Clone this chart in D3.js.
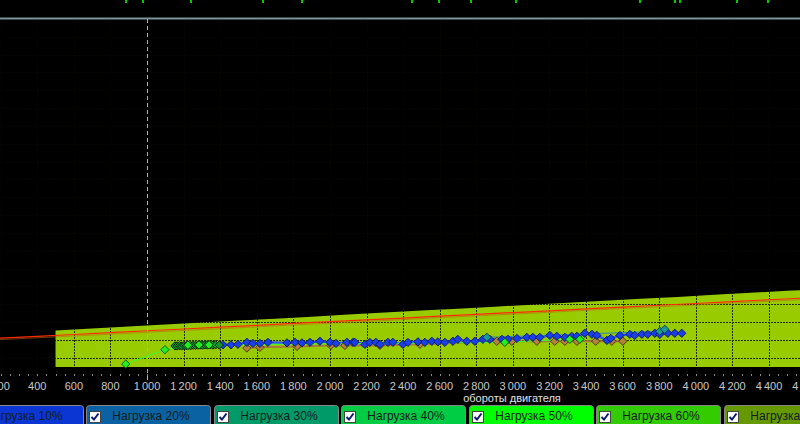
<!DOCTYPE html>
<html><head><meta charset="utf-8">
<script src="https://cdn.jsdelivr.net/npm/d3@7"></script>
<style>html,body{margin:0;padding:0;background:#000;overflow:hidden}svg{display:block}</style>
</head><body>
<svg id="c" width="800" height="424"></svg>
<script>
// ---------- data ----------
const xTicks = [0,200,400,600,800,1000,1200,1400,1600,1800,2000,2200,2400,2600,2800,3000,3200,3400,3600,3800,4000,4200,4400,4600];
const yGrid = [1,2,3,4,5,6,7,8,9,10,11,12,13,14,15,16,17,18,19];
const legendNames = ["Нагрузка 10%","Нагрузка 20%","Нагрузка 30%","Нагрузка 40%","Нагрузка 50%","Нагрузка 60%","Нагрузка 70%"];
const legendColors = ["#0c36d4","#0b62a3","#009a68","#00cc44","#00ff00","#33cc00","#669900"];
// permitted zone (band) top edge, rpm / value
const bandRpm = [500,700,900,1100,1300,1500,1700,1900,2100,2300,2500,2700,2900,3100,3300,3500,3700,3900,4100,4300,4500,4700,4900];
const bandTop = [2.53,2.64,2.75,2.86,2.97,3.08,3.19,3.30,3.42,3.53,3.64,3.75,3.86,3.97,4.08,4.19,4.30,4.41,4.53,4.64,4.75,4.86,4.97];
const bandBottom = 0.48;
// red limit line
const limRpm = [0,200,400,600,800,1000,1200,1400,1600,1800,2000,2200,2400,2600,2800,3000,3200,3400,3600,3800,4000,4200,4400,4600,4800];
const limVal = [1.99,2.10,2.20,2.30,2.40,2.51,2.61,2.71,2.81,2.92,3.02,3.12,3.22,3.33,3.43,3.53,3.63,3.74,3.84,3.94,4.04,4.15,4.25,4.35,4.45];
// series (rpm, value)
const s10rpm = [1415,1459,1497,1546,1579,1617,1661,1765,1809,1847,1891,1945,2000,2033,2093,2126,2136,2191,2218,2251,2273,2317,2344,2399,2426,2481,2519,2557,2590,2628,2672,2699,2748,2792,2836,2874,2940,2973,3022,3076,3109,3147,3202,3240,3284,3322,3350,3393,3432,3459,3514,3535,3585,3639,3666,3705,3737,3776,3803,3847,3885,3923];
const s10val = [1.72,1.72,1.75,1.86,1.80,1.80,1.86,1.83,1.86,1.83,1.86,1.92,1.86,1.80,1.86,1.86,1.86,1.75,1.86,1.86,1.75,1.86,1.86,1.75,1.86,1.89,1.86,1.92,1.89,1.86,1.92,2.03,1.92,1.92,2.03,2.03,2.03,2.03,2.08,2.14,2.14,2.14,2.25,2.20,2.14,2.20,2.20,2.37,2.31,2.25,1.97,2.08,2.25,2.31,2.25,2.31,2.31,2.37,2.31,2.37,2.37,2.37];
const s20rpm = [2858,3803,3830];
const s20val = [2.14,2.48,2.59];
const s40rpm = [1153,1165,1178,1190,1203,1215,1228,1240,1253,1265,1278,1290,1303,1316,1330,1345,1360,1375,1395];
const s40val = [1.66,1.66,1.67,1.66,1.68,1.67,1.69,1.68,1.70,1.69,1.70,1.71,1.70,1.72,1.71,1.72,1.71,1.72,1.71];
const s50rpm = [884,1098,1224,1284,1339,2956,3311,3366];
const s50val = [0.64,1.45,1.70,1.72,1.72,1.86,2.03,2.03];
const s80rpm = [1546,1617,1820,2005,2082,2273,2492,2912,2994,3131,3229,3284,3350,3453,3541,3601];
const s80val = [1.54,1.58,1.63,1.69,1.69,1.69,1.75,1.92,1.92,1.92,1.92,1.92,1.92,1.92,1.92,1.92];
const topMarkRpm = [880,973,1235,1628,1841,2443,2590,2765,3011,3688,3880,3907,4218,4388];

// ---------- layout ----------
const svg = d3.select("#c");
const x = d3.scaleLinear().domain([1000,4400]).range([147,769]);
const y = d3.scaleLinear().domain([0,20]).range([375.5,19]);

// top green marks
svg.append("g").selectAll("rect").data(topMarkRpm).join("rect")
  .attr("x", d => Math.round(x(d))).attr("y", 0).attr("width", 2).attr("height", 3).attr("fill", "#0c0");

// band
const band = bandRpm.map((r,i)=>({r, t: bandTop[i]}));
svg.append("path").datum(band)
  .attr("fill", "#99cc00")
  .attr("d", d3.area().x(d=>x(d.r)).y0(y(bandBottom)).y1(d=>y(d.t)));

// grid (dark dotted, only visible over the band)
const grid = svg.append("g").attr("stroke", "#050700").attr("stroke-width", 1).attr("stroke-dasharray", "2,1").attr("opacity",0.8);
grid.selectAll("line.v").data(xTicks.filter(d=>d!==1000)).join("line")
  .attr("x1", d=>Math.round(x(d))+0.5).attr("x2", d=>Math.round(x(d))+0.5).attr("y1", 19).attr("y2", 376);
grid.selectAll("line.h").data(yGrid).join("line")
  .attr("x1", 0).attr("x2", 800).attr("y1", d=>Math.round(y(d))+0.5).attr("y2", d=>Math.round(y(d))+0.5);

// red limit line
const lim = limRpm.map((r,i)=>({r, v: limVal[i]}));
svg.append("path").datum(lim).attr("fill","none").attr("stroke","#c06010").attr("stroke-width",1).attr("opacity",0.6)
  .attr("transform","translate(0,1.5)")
  .attr("d", d3.line().x(d=>x(d.r)).y(d=>y(d.v)));
svg.append("path").datum(lim).attr("fill","none").attr("stroke","#ff2a00").attr("stroke-width",1.2)
  .attr("d", d3.line().x(d=>x(d.r)).y(d=>y(d.v)));

// top border
svg.append("line").attr("x1",0).attr("x2",800).attr("y1",18.5).attr("y2",18.5).attr("stroke","#7d9497").attr("stroke-width",2);
// 1000 rpm marker
svg.append("line").attr("x1",x(1000)+0.5).attr("x2",x(1000)+0.5).attr("y1",19).attr("y2",380)
  .attr("stroke","#b0b0b0").attr("stroke-width",1).attr("stroke-dasharray","4,3");

// series
const series = [
  {rpm:s80rpm, val:s80val, fill:"#b0843c", line:"#a57a3a", lw:2, stroke:"#4a3000"},
  {rpm:s10rpm, val:s10val, fill:"#1a3fe8", line:"#3358f0", lw:2.5, stroke:"#0a1460"},
  {rpm:s20rpm, val:s20val, fill:"#1a9a9a", line:"#2a8ab0", lw:1, stroke:"#0a3040"},
  {rpm:s40rpm, val:s40val, fill:"#0c9a30", line:"#062a06", lw:4, stroke:"#021202"},
  {rpm:s50rpm, val:s50val, fill:"#22ee22", line:"#33ff33", lw:1, stroke:"#0a4a0a"},
];
const line = d3.line().x(d=>x(d[0])).y(d=>y(d[1]));
const sym = d3.symbol().type(d3.symbolDiamond2).size(44);
series.forEach(s => {
  const pts = s.rpm.map((r,i)=>[r, s.val[i]]);
  svg.append("path").datum(pts).attr("fill","none").attr("stroke",s.line).attr("stroke-width",s.lw).attr("d",line);
});
series.forEach(s => {
  const pts = s.rpm.map((r,i)=>[r, s.val[i]]);
  svg.append("g").selectAll("path").data(pts).join("path")
    .attr("d", sym).attr("transform", d=>`translate(${x(d[0])},${y(d[1])})`)
    .attr("fill", s.fill).attr("stroke", s.stroke).attr("stroke-width", 0.9);
});

// x axis
const fmt = d => d3.format(",")(d).replace(/,/g, "\u2009");
const ax = svg.append("g").attr("transform","translate(0,375)");
const minor = d3.range(0, 4800, 50);
ax.selectAll("line.m").data(minor).join("line")
  .attr("x1", d=>Math.round(x(d))+0.5).attr("x2", d=>Math.round(x(d))+0.5).attr("y1",-1).attr("y2",1)
  .attr("stroke","#8a8a8a");
ax.selectAll("text").data(xTicks).join("text")
  .attr("x", d=>x(d)).attr("y", 15).attr("text-anchor","middle")
  .attr("font-family","'Liberation Sans', Arial, sans-serif").attr("font-size","11px").attr("fill","#c8c8c8")
  .text(fmt);
svg.append("text").attr("x", 512).attr("y", 402).attr("text-anchor","middle")
  .attr("font-family","'Liberation Sans', Arial, sans-serif").attr("font-size","11px").attr("fill","#e0e0e0")
  .text("обороты двигателя");

// legend
const lx = d3.scaleLinear().domain([0,1]).range([-41.5, 86]);
const lg = svg.append("g").selectAll("g").data(legendNames).join("g")
  .attr("transform", (d,i)=>`translate(${Math.round(lx(i))},405)`);
lg.append("rect").attr("x",0.5).attr("y",0.5).attr("width",124).attr("height",26).attr("rx",3)
  .attr("fill", (d,i)=>legendColors[i]).attr("stroke","#888").attr("stroke-width",1);
lg.append("rect").attr("x",3.5).attr("y",6.5).attr("width",11).attr("height",11).attr("fill","#fff").attr("stroke","#444");
lg.append("path").attr("d","M5.5,12 L8,14.5 L12.5,8.5").attr("fill","none").attr("stroke","#0a1a70").attr("stroke-width",2);
lg.append("text").attr("x",65).attr("y",15).attr("text-anchor","middle")
  .attr("font-family","'Liberation Sans', Arial, sans-serif").attr("font-size","12px").attr("fill","#102020")
  .text(d=>d);
</script>
</body></html>
